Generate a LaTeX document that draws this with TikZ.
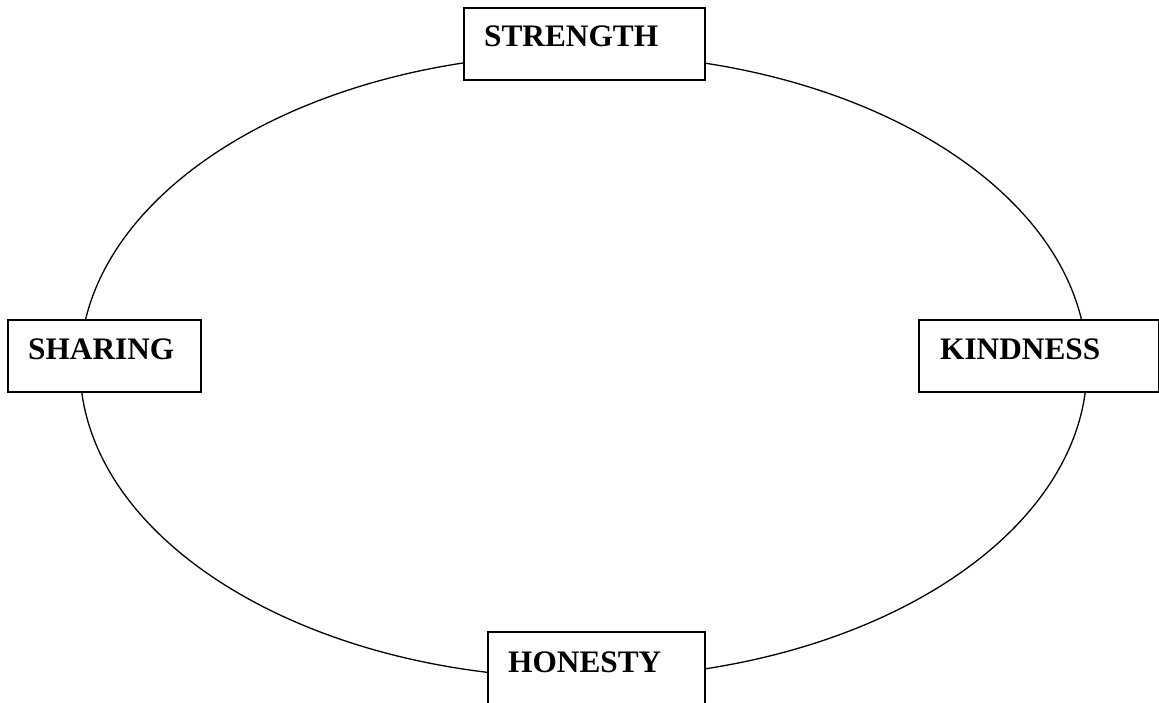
\documentclass[tikz,border=0pt]{standalone}
\usepackage{fontspec}
\setmainfont{Liberation Serif}
\begin{document}
\begin{tikzpicture}[x=1pt,y=-1pt,
  box/.style={draw=black,line width=1.8pt,fill=white},
  lbl/.style={anchor=base west,inner sep=0pt,font=\fontsize{31.3}{36}\selectfont\bfseries},
  ring/.style={draw=black,line width=1.3pt}]
\useasboundingbox (0,0) rectangle (1159,702);
\draw[ring] (583.5,366) ellipse [x radius=503.5, y radius=312];
\node[box,inner sep=0pt,minimum width=241pt,minimum height=72pt,anchor=north west] (strengthbox) at (463,7) {};
\node[lbl] (strength) at (484,46) {STRENGTH};
\node[box,inner sep=0pt,minimum width=193pt,minimum height=72pt,anchor=north west] (sharingbox) at (7,319) {};
\node[lbl] (sharing) at (28,359) {SHARING};
\node[box,inner sep=0pt,minimum width=239.5pt,minimum height=72pt,anchor=north west] (kindnessbox) at (918,319) {};
\node[lbl] (kindness) at (940,359) {KINDNESS};
\node[box,inner sep=0pt,minimum width=217pt,minimum height=90pt,anchor=north west] (honestybox) at (487,631) {};
\node[lbl] (honesty) at (508,672) {HONESTY};
\end{tikzpicture}
\end{document}
